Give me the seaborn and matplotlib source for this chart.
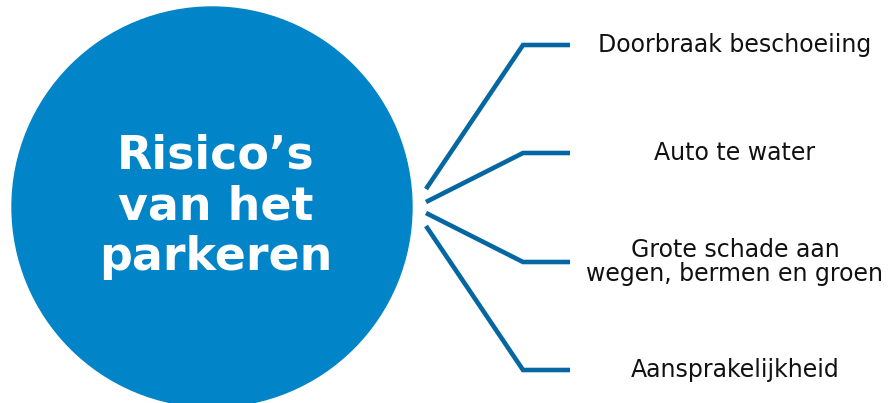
import matplotlib
matplotlib.use("Agg")
import matplotlib.pyplot as plt
import seaborn as sns
import pandas as pd
from matplotlib.patches import Circle

sns.set_theme(style="white")
plt.rcParams['font.family'] = ['DejaVu Sans']

title_lines = ["Risico’s", "van het", "parkeren"]
labels = ["Doorbraak beschoeiing", "Auto te water",
          "Grote schade aan\nwegen, bermen en groen", "Aansprakelijkheid"]
# y position of each branch (pixels from top)
branch_y = [45, 153, 262, 370]
start_y = [189, 202, 213, 226]

circle_color = "#0284C8"
line_color = "#0467A2"

fig = plt.figure(figsize=(8.9, 4.03), dpi=100)
ax = fig.add_axes([0, 0, 1, 1])
ax.set_xlim(0, 890)
ax.set_ylim(403, 0)
ax.axis("off")

ax.add_patch(Circle((212, 207), 200, color=circle_color, zorder=1))

rows = []
for i, (sy, by) in enumerate(zip(start_y, branch_y)):
    for order, (x, y) in enumerate([(426, sy), (523, by), (570, by)]):
        rows.append({"branch": i, "order": order, "x": x, "y": y})
df = pd.DataFrame(rows)
sns.lineplot(data=df, x="x", y="y", units="branch", estimator=None, sort=False,
             color=line_color, linewidth=3.3, ax=ax, legend=False,
             solid_capstyle="butt", solid_joinstyle="miter")

for lab, y in zip(labels, branch_y):
    ax.text(735, y, lab, ha="center", va="center", fontsize=17,
            color="#111111", linespacing=1.02)

for j, t in enumerate(title_lines):
    ax.text(216, 156 + j * 51, t, ha="center", va="center", fontsize=33,
            fontweight="bold", color="white")

ax.set_xlabel("")
ax.set_ylabel("")
fig.savefig("out.png", dpi=100)
